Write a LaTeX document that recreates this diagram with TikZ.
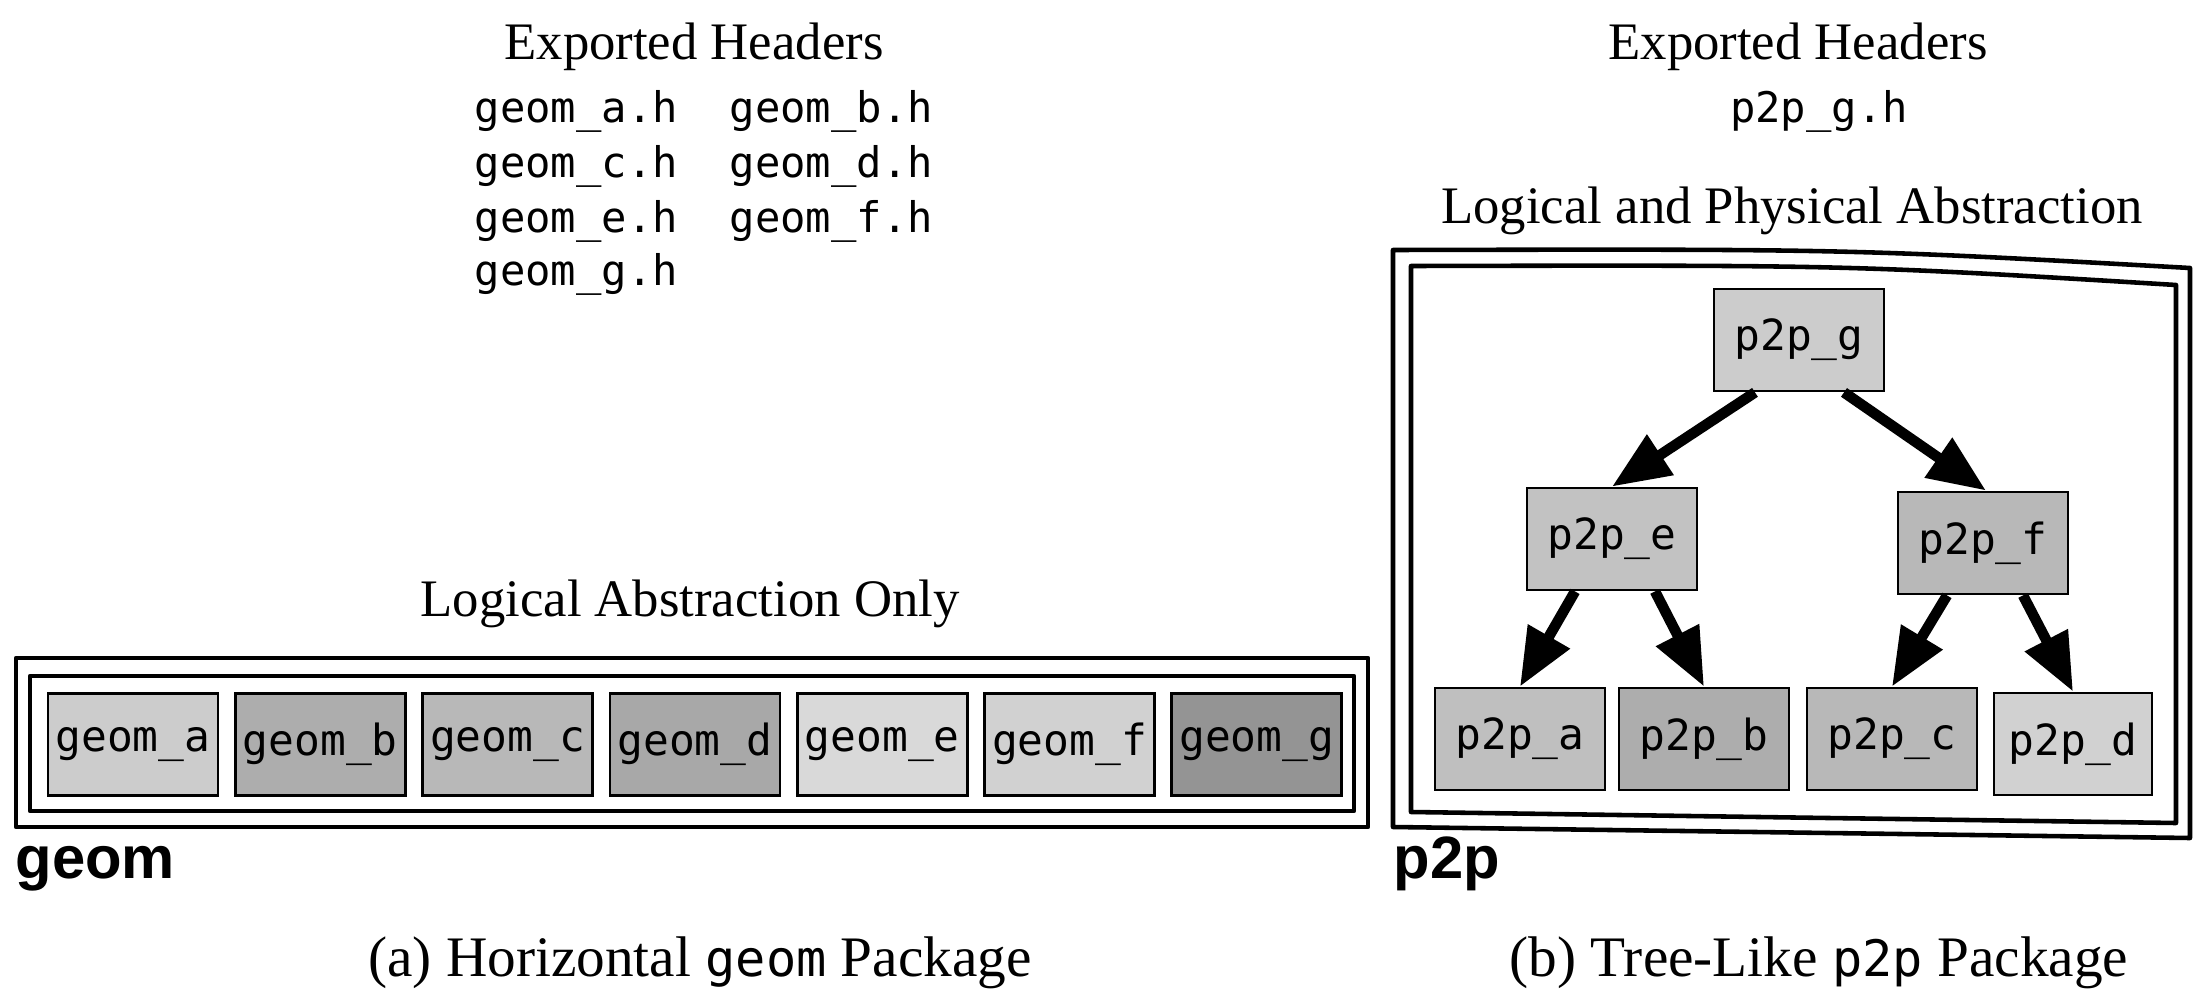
\documentclass[tikz,border=0pt]{standalone}
\usepackage{fontspec}
\setmainfont{Liberation Serif}
\setsansfont{Liberation Sans}
\setmonofont{DejaVu Sans Mono}
\usetikzlibrary{arrows.meta, positioning, calc}
\tikzset{
  modbox/.style={draw=black, line width=0.8pt, minimum width=1.70cm, minimum height=1.02cm,
    inner sep=0pt, font=\fontsize{12.2}{14}\ttfamily},
  pkgframe/.style={draw=black, line width=1.3pt, line join=round},
  dep/.style={-{Triangle[length=5.8mm, width=4.6mm]}, line width=3pt},
  hdr/.style={font=\fontsize{15}{18}\selectfont},
  hfile/.style={font=\fontsize{12}{14}\ttfamily, anchor=mid west, inner sep=0pt},
  pkgname/.style={font=\fontsize{17}{20}\sffamily\bfseries, anchor=mid west, inner sep=0pt},
  subcap/.style={font=\fontsize{16.3}{19}\selectfont},
}

\begin{document}
\begin{tikzpicture}
  \useasboundingbox[fill=white] (0,0) rectangle (21.99,9.95);
  % (a) horizontal package
  \node[hdr] (expgeom) at (6.94,9.48) {Exported Headers};
  \foreach \f/\x/\y in {a/4.74/8.81, b/7.29/8.81, c/4.74/8.26, d/7.29/8.26,
                        e/4.74/7.71, f/7.29/7.71, g/4.74/7.18}
    \node[hfile] (hdr\f) at (\x,\y) {geom\_\f.h};
  \node[hdr] (logonly) at (6.90,3.91) {Logical Abstraction Only};
  \draw[pkgframe] (0.16,1.68) rectangle (13.68,3.37);
  \draw[pkgframe] (0.30,1.84) rectangle (13.54,3.19);
  \foreach \m/\s [count=\i from 0] in {a/20,b/32,c/28,d/34,e/15,f/18,g/42}
    \node[modbox, fill=black!\s] (geom\m) at ({1.33+1.873*\i},2.505) {geom\_\m};
  \node[pkgname] (geomname) at (0.15,1.25) {geom};
  \node[subcap] (capa) at (7.0,0.32) {(a) Horizontal {\fontsize{14.3}{17}\ttfamily geom} Package};

  % (b) tree-like package
  \node[hdr] (expp2p) at (17.98,9.48) {Exported Headers};
  \node[hfile, anchor=mid] (hdrp2p) at (18.19,8.81) {p2p\_g.h};
  \node[hdr] (logphys) at (17.92,7.84) {Logical and Physical Abstraction};
  \draw[pkgframe] (13.93,1.68) -- (13.93,7.45) .. controls (18.5,7.46) .. (21.90,7.27) -- (21.90,1.57) -- cycle;
  \draw[pkgframe] (14.11,1.83) -- (14.11,7.29) .. controls (18.5,7.30) .. (21.76,7.10) -- (21.76,1.72) -- cycle;
  \node[modbox, fill=black!20] (p2pg) at (17.99,6.55) {p2p\_g};
  \node[modbox, fill=black!24] (p2pe) at (16.12,4.56) {p2p\_e};
  \node[modbox, fill=black!28] (p2pf) at (19.83,4.52) {p2p\_f};
  \node[modbox, fill=black!25] (p2pa) at (15.20,2.56) {p2p\_a};
  \node[modbox, fill=black!32] (p2pb) at (17.04,2.56) {p2p\_b};
  \node[modbox, fill=black!28] (p2pc) at (18.92,2.56) {p2p\_c};
  \node[modbox, fill=black!18, minimum width=1.58cm] (p2pd) at (20.73,2.51) {p2p\_d};
  \draw[dep] ([xshift=-0.44cm]p2pg.south) -- (p2pe.north);
  \draw[dep] ([xshift=0.45cm]p2pg.south) -- ([xshift=0.03cm]p2pf.north);
  \draw[dep] ([xshift=-0.37cm]p2pe.south) -- (p2pa.north);
  \draw[dep] ([xshift=0.43cm]p2pe.south) -- (p2pb.north);
  \draw[dep] ([xshift=-0.36cm]p2pf.south) -- (p2pc.north);
  \draw[dep] ([xshift=0.40cm]p2pf.south) -- (p2pd.north);
  \node[pkgname] (p2pname) at (13.93,1.25) {p2p};
  \node[subcap] (capb) at (18.19,0.32) {(b) Tree-Like {\fontsize{14.3}{17}\ttfamily p2p} Package};
\end{tikzpicture}
\end{document}
